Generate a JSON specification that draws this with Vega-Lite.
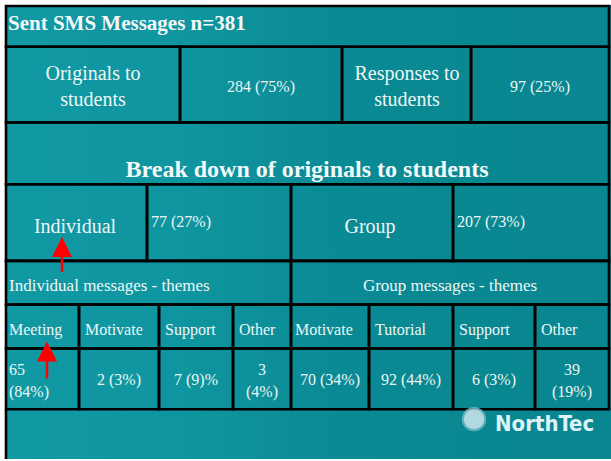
{
  "$schema": "https://vega.github.io/schema/vega-lite/v6.json",
  "width": 611,
  "height": 461,
  "autosize": {"type": "fit", "contains": "padding"},
  "padding": 0,
  "background": "#ffffff",
  "config": {"view": {"stroke": null}},
  "datasets": {
    "panel": [{"x": 5, "x2": 611, "y": 5, "y2": 461}],
    "cells": [
      {"x": 6, "x2": 609, "y": 6, "y2": 47},
      {"x": 6, "x2": 180, "y": 47, "y2": 123},
      {"x": 180, "x2": 342, "y": 47, "y2": 123},
      {"x": 342, "x2": 471, "y": 47, "y2": 123},
      {"x": 471, "x2": 609, "y": 47, "y2": 123},
      {"x": 6, "x2": 609, "y": 123, "y2": 185},
      {"x": 6, "x2": 147, "y": 185, "y2": 262},
      {"x": 147, "x2": 291, "y": 185, "y2": 262},
      {"x": 291, "x2": 453, "y": 185, "y2": 262},
      {"x": 453, "x2": 609, "y": 185, "y2": 262},
      {"x": 6, "x2": 291, "y": 262, "y2": 306},
      {"x": 291, "x2": 609, "y": 262, "y2": 306},
      {"x": 6, "x2": 79, "y": 306, "y2": 350},
      {"x": 79, "x2": 159, "y": 306, "y2": 350},
      {"x": 159, "x2": 233, "y": 306, "y2": 350},
      {"x": 233, "x2": 291, "y": 306, "y2": 350},
      {"x": 291, "x2": 369, "y": 306, "y2": 350},
      {"x": 369, "x2": 453, "y": 306, "y2": 350},
      {"x": 453, "x2": 535, "y": 306, "y2": 350},
      {"x": 535, "x2": 609, "y": 306, "y2": 350},
      {"x": 6, "x2": 79, "y": 350, "y2": 411},
      {"x": 79, "x2": 159, "y": 350, "y2": 411},
      {"x": 159, "x2": 233, "y": 350, "y2": 411},
      {"x": 233, "x2": 291, "y": 350, "y2": 411},
      {"x": 291, "x2": 369, "y": 350, "y2": 411},
      {"x": 369, "x2": 453, "y": 350, "y2": 411},
      {"x": 453, "x2": 535, "y": 350, "y2": 411},
      {"x": 535, "x2": 609, "y": 350, "y2": 411}
    ],
    "edge": [{"x": 6, "y": 411, "y2": 461}],
    "texts": [
      {"role": "title", "t": "Sent  SMS Messages n=381", "x": 8, "y": 30},
      {"role": "subtitle", "t": "Break down of originals to students", "x": 307, "y": 178},
      {"role": "label", "t": "Originals to\nstudents", "x": 93, "y": 80},
      {"role": "label", "t": "Responses to\nstudents", "x": 407, "y": 80},
      {"role": "label", "t": "Individual", "x": 75, "y": 234},
      {"role": "label", "t": "Group", "x": 370, "y": 234},
      {"role": "value", "t": "284 (75%)", "x": 261, "y": 92},
      {"role": "value", "t": "97 (25%)", "x": 540, "y": 92},
      {"role": "valueLeft", "t": "77 (27%)", "x": 151, "y": 228},
      {"role": "valueLeft", "t": "207 (73%)", "x": 457, "y": 228},
      {"role": "themeLeft", "t": "Individual messages - themes", "x": 9, "y": 292},
      {"role": "themeCenter", "t": "Group messages - themes", "x": 450, "y": 292},
      {"role": "valueLeft", "t": "Meeting", "x": 9, "y": 336},
      {"role": "valueLeft", "t": "Motivate", "x": 85, "y": 336},
      {"role": "valueLeft", "t": "Support", "x": 165, "y": 336},
      {"role": "valueLeft", "t": "Other", "x": 239, "y": 336},
      {"role": "valueLeft", "t": "Motivate", "x": 295, "y": 336},
      {"role": "valueLeft", "t": "Tutorial", "x": 375, "y": 336},
      {"role": "valueLeft", "t": "Support", "x": 459, "y": 336},
      {"role": "valueLeft", "t": "Other", "x": 541, "y": 336},
      {"role": "valueLeft", "t": "65\n(84%)", "x": 9, "y": 377},
      {"role": "value", "t": "2 (3%)", "x": 119, "y": 387},
      {"role": "value", "t": "7 (9)%", "x": 196, "y": 387},
      {"role": "value", "t": "3\n(4%)", "x": 262, "y": 377},
      {"role": "value", "t": "70 (34%)", "x": 330, "y": 387},
      {"role": "value", "t": "92 (44%)", "x": 411, "y": 387},
      {"role": "value", "t": "6 (3%)", "x": 494, "y": 387},
      {"role": "value", "t": "39\n(19%)", "x": 572, "y": 377}
    ],
    "shafts": [
      {"x": 62, "y": 255, "y2": 273},
      {"x": 47, "y": 360, "y2": 380}
    ],
    "heads": [
      {"x": 62, "y": 248},
      {"x": 47, "y": 353}
    ],
    "logo": [{"t": "NorthTec", "x": 495, "y": 433}],
    "badge": [{"x": 474, "y": 421}]
  },
  "layer": [
    {
      "data": {"name": "panel"},
      "mark": {
        "type": "rect",
        "fill": {
          "gradient": "linear",
          "x1": 0, "y1": 0, "x2": 1, "y2": 0,
          "stops": [
            {"offset": 0, "color": "#1199a3"},
            {"offset": 0.3, "color": "#0f959f"},
            {"offset": 0.55, "color": "#0a8a94"},
            {"offset": 1, "color": "#098690"}
          ]
        }
      },
      "encoding": {
        "x": {"field": "x", "type": "quantitative", "scale": {"domain": [0, 611], "nice": false, "zero": false}, "axis": null},
        "x2": {"field": "x2"},
        "y": {"field": "y", "type": "quantitative", "scale": {"domain": [0, 461], "nice": false, "zero": false, "reverse": true}, "axis": null},
        "y2": {"field": "y2"}
      }
    },
    {
      "data": {"name": "cells"},
      "mark": {"type": "rect", "fill": "transparent", "stroke": "#000000", "strokeWidth": 2.6},
      "encoding": {
        "x": {"field": "x", "type": "quantitative"},
        "x2": {"field": "x2"},
        "y": {"field": "y", "type": "quantitative"},
        "y2": {"field": "y2"}
      }
    },
    {
      "data": {"name": "edge"},
      "mark": {"type": "rule", "stroke": "#000000", "strokeWidth": 2.6},
      "encoding": {
        "x": {"field": "x", "type": "quantitative"},
        "y": {"field": "y", "type": "quantitative"},
        "y2": {"field": "y2"}
      }
    },
    {
      "data": {"name": "texts"},
      "transform": [{"filter": "datum.role === 'title'"}],
      "mark": {"type": "text", "font": "Liberation Serif", "fontWeight": "bold", "fontSize": 21, "align": "left", "baseline": "alphabetic", "color": "#f3f8f8"},
      "encoding": {
        "x": {"field": "x", "type": "quantitative"},
        "y": {"field": "y", "type": "quantitative"},
        "text": {"field": "t"}
      }
    },
    {
      "data": {"name": "texts"},
      "transform": [{"filter": "datum.role === 'subtitle'"}],
      "mark": {"type": "text", "font": "Liberation Serif", "fontWeight": "bold", "fontSize": 24, "align": "center", "baseline": "alphabetic", "color": "#f3f8f8"},
      "encoding": {
        "x": {"field": "x", "type": "quantitative"},
        "y": {"field": "y", "type": "quantitative"},
        "text": {"field": "t"}
      }
    },
    {
      "data": {"name": "texts"},
      "transform": [{"filter": "datum.role === 'label'"}],
      "mark": {"type": "text", "font": "Liberation Serif", "fontSize": 20, "align": "center", "baseline": "alphabetic", "lineBreak": "\n", "lineHeight": 26, "color": "#eef6f6"},
      "encoding": {
        "x": {"field": "x", "type": "quantitative"},
        "y": {"field": "y", "type": "quantitative"},
        "text": {"field": "t"}
      }
    },
    {
      "data": {"name": "texts"},
      "transform": [{"filter": "datum.role === 'value'"}],
      "mark": {"type": "text", "font": "Liberation Serif", "fontSize": 16, "align": "center", "baseline": "alphabetic", "lineBreak": "\n", "lineHeight": 22, "color": "#eef6f6"},
      "encoding": {
        "x": {"field": "x", "type": "quantitative"},
        "y": {"field": "y", "type": "quantitative"},
        "text": {"field": "t"}
      }
    },
    {
      "data": {"name": "texts"},
      "transform": [{"filter": "datum.role === 'valueLeft'"}],
      "mark": {"type": "text", "font": "Liberation Serif", "fontSize": 16, "align": "left", "baseline": "alphabetic", "lineBreak": "\n", "lineHeight": 22, "color": "#eef6f6"},
      "encoding": {
        "x": {"field": "x", "type": "quantitative"},
        "y": {"field": "y", "type": "quantitative"},
        "text": {"field": "t"}
      }
    },
    {
      "data": {"name": "texts"},
      "transform": [{"filter": "datum.role === 'themeLeft'"}],
      "mark": {"type": "text", "font": "Liberation Serif", "fontSize": 17, "align": "left", "baseline": "alphabetic", "color": "#eef6f6"},
      "encoding": {
        "x": {"field": "x", "type": "quantitative"},
        "y": {"field": "y", "type": "quantitative"},
        "text": {"field": "t"}
      }
    },
    {
      "data": {"name": "texts"},
      "transform": [{"filter": "datum.role === 'themeCenter'"}],
      "mark": {"type": "text", "font": "Liberation Serif", "fontSize": 17, "align": "center", "baseline": "alphabetic", "color": "#eef6f6"},
      "encoding": {
        "x": {"field": "x", "type": "quantitative"},
        "y": {"field": "y", "type": "quantitative"},
        "text": {"field": "t"}
      }
    },
    {
      "data": {"name": "shafts"},
      "mark": {"type": "rule", "stroke": "#ff0000", "strokeWidth": 2.5},
      "encoding": {
        "x": {"field": "x", "type": "quantitative"},
        "y": {"field": "y", "type": "quantitative"},
        "y2": {"field": "y2"}
      }
    },
    {
      "data": {"name": "heads"},
      "mark": {"type": "point", "shape": "M0,-1L1,1L-1,1Z", "size": 400, "filled": true, "fill": "#ff0000", "opacity": 1, "strokeWidth": 0},
      "encoding": {
        "x": {"field": "x", "type": "quantitative"},
        "y": {"field": "y", "type": "quantitative"}
      }
    },
    {
      "data": {"name": "badge"},
      "mark": {"type": "point", "shape": "circle", "size": 500, "filled": true, "fill": "#cfe9ee", "opacity": 0.85, "stroke": "#6fb8c6", "strokeWidth": 2},
      "encoding": {
        "x": {"field": "x", "type": "quantitative"},
        "y": {"field": "y", "type": "quantitative"}
      }
    },
    {
      "data": {"name": "logo"},
      "mark": {"type": "text", "font": "DejaVu Sans Condensed", "fontWeight": "bold", "fontSize": 22, "align": "left", "baseline": "alphabetic", "color": "#def3f6"},
      "encoding": {
        "x": {"field": "x", "type": "quantitative"},
        "y": {"field": "y", "type": "quantitative"},
        "text": {"field": "t"}
      }
    }
  ]
}
